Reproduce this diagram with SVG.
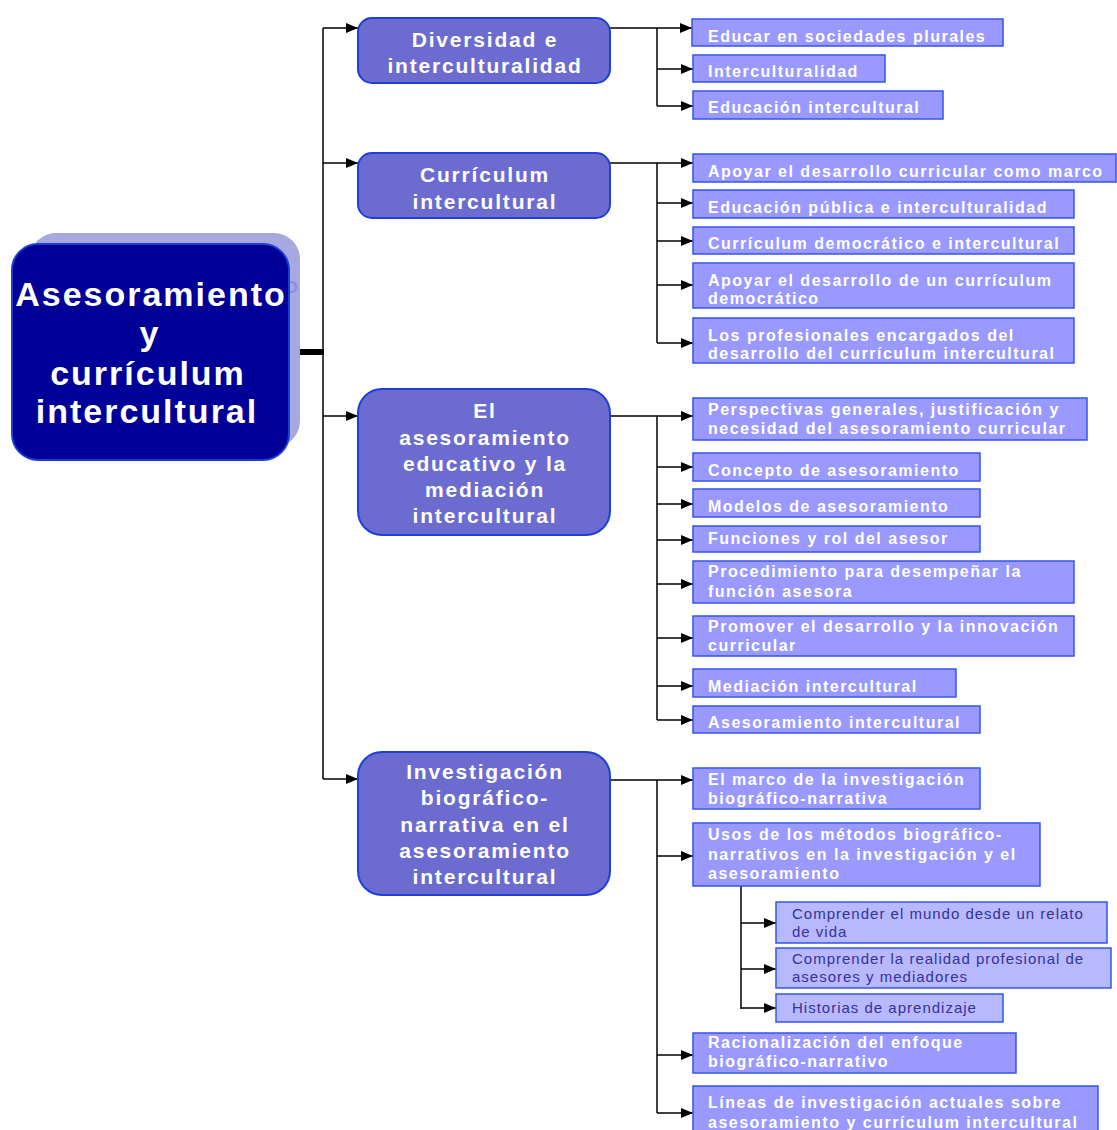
<svg xmlns="http://www.w3.org/2000/svg" width="1117" height="1130" viewBox="0 0 1117 1130">
<style>
.root-t{font-family:"Liberation Sans",Arial,sans-serif;font-weight:bold;font-size:34px;fill:#fff;letter-spacing:2px;text-anchor:middle}
.n1{fill:#6b6bd0;stroke:#1f3fd6;stroke-width:2}
.n1-t{font-family:"Liberation Sans",Arial,sans-serif;font-weight:bold;font-size:21px;fill:#fff;letter-spacing:1.8px;text-anchor:middle}
.leaf{fill:#9999ff;stroke:#3355ee;stroke-width:1.5}
.leaf-t{font-family:"Liberation Sans",Arial,sans-serif;font-weight:bold;font-size:16px;fill:#fff;letter-spacing:1.5px}
.sub{fill:#b8b8ff;stroke:#3355ee;stroke-width:1.5}
.sub-t{font-family:"Liberation Sans",Arial,sans-serif;font-size:15px;fill:#333399;letter-spacing:1px}
.c{stroke:#000;stroke-width:1.5;fill:none}
.ca{stroke:#000;stroke-width:1.5;fill:none;marker-end:url(#arr)}
</style>
<defs>
<marker id="arr" markerUnits="userSpaceOnUse" markerWidth="12" markerHeight="10" refX="12" refY="5" orient="auto">
<path d="M0,0 L12,5 L0,10 Z" fill="#000"/>
</marker>
</defs>
<rect width="1117" height="1130" fill="#fff"/>

<g id="connectors">
<line x1="300" y1="352" x2="324" y2="352" stroke="#000" stroke-width="6"/>
<line class="c" x1="323" y1="28" x2="323" y2="779" stroke-width="2"/>
<line class="ca" x1="323" y1="28" x2="358" y2="28"/>
<line class="ca" x1="323" y1="163" x2="358" y2="163"/>
<line class="ca" x1="323" y1="416" x2="358" y2="416"/>
<line class="ca" x1="323" y1="779" x2="358" y2="779"/>

<line class="c" x1="610" y1="28" x2="657" y2="28"/>
<line class="c" x1="657" y1="28" x2="657" y2="106"/>
<line class="ca" x1="657" y1="28" x2="692" y2="28"/>
<line class="ca" x1="657" y1="69" x2="693" y2="69"/>
<line class="ca" x1="657" y1="106" x2="693" y2="106"/>

<line class="c" x1="610" y1="163" x2="657" y2="163"/>
<line class="c" x1="657" y1="163" x2="657" y2="343"/>
<line class="ca" x1="657" y1="163" x2="693" y2="163"/>
<line class="ca" x1="657" y1="203" x2="693" y2="203"/>
<line class="ca" x1="657" y1="241" x2="693" y2="241"/>
<line class="ca" x1="657" y1="285" x2="693" y2="285"/>
<line class="ca" x1="657" y1="343" x2="693" y2="343"/>

<line class="c" x1="610" y1="416" x2="657" y2="416"/>
<line class="c" x1="657" y1="416" x2="657" y2="720"/>
<line class="ca" x1="657" y1="416" x2="693" y2="416"/>
<line class="ca" x1="657" y1="467" x2="693" y2="467"/>
<line class="ca" x1="657" y1="504" x2="693" y2="504"/>
<line class="ca" x1="657" y1="540" x2="693" y2="540"/>
<line class="ca" x1="657" y1="584" x2="693" y2="584"/>
<line class="ca" x1="657" y1="638" x2="693" y2="638"/>
<line class="ca" x1="657" y1="686" x2="693" y2="686"/>
<line class="ca" x1="657" y1="720" x2="693" y2="720"/>

<line class="c" x1="610" y1="780" x2="657" y2="780"/>
<line class="c" x1="657" y1="780" x2="657" y2="1113"/>
<line class="ca" x1="657" y1="780" x2="693" y2="780"/>
<line class="ca" x1="657" y1="856" x2="693" y2="856"/>
<line class="ca" x1="657" y1="1055" x2="693" y2="1055"/>
<line class="ca" x1="657" y1="1113" x2="693" y2="1113"/>

<line class="c" x1="741" y1="886" x2="741" y2="1009"/>
<line class="ca" x1="741" y1="923" x2="776" y2="923"/>
<line class="ca" x1="741" y1="969" x2="776" y2="969"/>
<line class="ca" x1="741" y1="1008" x2="776" y2="1008"/>
</g>

<g id="root">
<rect x="30" y="233" width="270" height="214" rx="26" fill="#a8a8e0"/>
<circle cx="291" cy="287" r="5" fill="none" stroke="#8c8ce0" stroke-width="2.5"/>
<rect x="12" y="244" width="277" height="216" rx="26" fill="#000099" stroke="#1a3fd0" stroke-width="2"/>
<text class="root-t" x="151" y="306">Asesoramiento</text>
<text class="root-t" x="150" y="345">y</text>
<text class="root-t" x="148" y="385">currículum</text>
<text class="root-t" x="147" y="423">intercultural</text>
</g>

<g id="n-diversidad">
<rect class="n1" x="358" y="18" width="252" height="65" rx="14"/>
<text class="n1-t" x="485" y="47">Diversidad e</text>
<text class="n1-t" x="485" y="73">interculturalidad</text>
</g>
<g id="n-curriculum">
<rect class="n1" x="358" y="153" width="252" height="65" rx="14"/>
<text class="n1-t" x="485" y="182">Currículum</text>
<text class="n1-t" x="485" y="209">intercultural</text>
</g>
<g id="n-asesoramiento">
<rect class="n1" x="358" y="389" width="252" height="146" rx="24"/>
<text class="n1-t" x="485" y="418">El</text>
<text class="n1-t" x="485" y="445">asesoramiento</text>
<text class="n1-t" x="485" y="471">educativo y la</text>
<text class="n1-t" x="485" y="497">mediación</text>
<text class="n1-t" x="485" y="523">intercultural</text>
</g>
<g id="n-investigacion">
<rect class="n1" x="358" y="752" width="252" height="143" rx="24"/>
<text class="n1-t" x="485" y="779">Investigación</text>
<text class="n1-t" x="485" y="805">biográfico-</text>
<text class="n1-t" x="485" y="832">narrativa en el</text>
<text class="n1-t" x="485" y="858">asesoramiento</text>
<text class="n1-t" x="485" y="884">intercultural</text>
</g>

<g id="l-educar"><rect class="leaf" x="692" y="19" width="311" height="27"/><text class="leaf-t" x="708" y="42">Educar en sociedades plurales</text></g>
<g id="l-intercult"><rect class="leaf" x="693" y="55" width="192" height="27"/><text class="leaf-t" x="708" y="77">Interculturalidad</text></g>
<g id="l-educacion"><rect class="leaf" x="693" y="91" width="250" height="28"/><text class="leaf-t" x="708" y="113">Educación intercultural</text></g>

<g id="l-apoyar-marco"><rect class="leaf" x="693" y="154" width="423" height="28"/><text class="leaf-t" x="708" y="177">Apoyar el desarrollo curricular como marco</text></g>
<g id="l-publica"><rect class="leaf" x="693" y="190" width="381" height="28"/><text class="leaf-t" x="708" y="213">Educación pública e interculturalidad</text></g>
<g id="l-democratico"><rect class="leaf" x="693" y="227" width="381" height="27"/><text class="leaf-t" x="708" y="249">Currículum democrático e intercultural</text></g>
<g id="l-apoyar-dem"><rect class="leaf" x="693" y="263" width="381" height="45"/><text class="leaf-t" x="708" y="286">Apoyar el desarrollo de un currículum</text><text class="leaf-t" x="708" y="304">democrático</text></g>
<g id="l-profesionales"><rect class="leaf" x="693" y="318" width="381" height="45"/><text class="leaf-t" x="708" y="341">Los profesionales encargados del</text><text class="leaf-t" x="708" y="359">desarrollo del currículum intercultural</text></g>

<g id="l-perspectivas"><rect class="leaf" x="693" y="398" width="394" height="42"/><text class="leaf-t" x="708" y="415">Perspectivas generales, justificación y</text><text class="leaf-t" x="708" y="434">necesidad del asesoramiento curricular</text></g>
<g id="l-concepto"><rect class="leaf" x="693" y="453" width="287" height="28"/><text class="leaf-t" x="708" y="476">Concepto de asesoramiento</text></g>
<g id="l-modelos"><rect class="leaf" x="693" y="489" width="287" height="28"/><text class="leaf-t" x="708" y="512">Modelos de asesoramiento</text></g>
<g id="l-funciones"><rect class="leaf" x="693" y="526" width="287" height="26"/><text class="leaf-t" x="708" y="544">Funciones y rol del asesor</text></g>
<g id="l-procedimiento"><rect class="leaf" x="693" y="561" width="381" height="42"/><text class="leaf-t" x="708" y="577">Procedimiento para desempeñar la</text><text class="leaf-t" x="708" y="597">función asesora</text></g>
<g id="l-promover"><rect class="leaf" x="693" y="616" width="381" height="40"/><text class="leaf-t" x="708" y="632">Promover el desarrollo y la innovación</text><text class="leaf-t" x="708" y="651">curricular</text></g>
<g id="l-mediacion"><rect class="leaf" x="693" y="669" width="263" height="28"/><text class="leaf-t" x="708" y="692">Mediación intercultural</text></g>
<g id="l-asesor-int"><rect class="leaf" x="693" y="706" width="287" height="27"/><text class="leaf-t" x="708" y="728">Asesoramiento intercultural</text></g>

<g id="l-marco"><rect class="leaf" x="693" y="768" width="287" height="41"/><text class="leaf-t" x="708" y="785">El marco de la investigación</text><text class="leaf-t" x="708" y="804">biográfico-narrativa</text></g>
<g id="l-usos"><rect class="leaf" x="693" y="823" width="347" height="63"/><text class="leaf-t" x="708" y="840">Usos de los métodos biográfico-</text><text class="leaf-t" x="708" y="860">narrativos en la investigación y el</text><text class="leaf-t" x="708" y="879">asesoramiento</text></g>
<g id="s-mundo"><rect class="sub" x="776" y="902" width="331" height="41"/><text class="sub-t" x="792" y="919">Comprender el mundo desde un relato</text><text class="sub-t" x="792" y="937">de vida</text></g>
<g id="s-realidad"><rect class="sub" x="776" y="948" width="335" height="40"/><text class="sub-t" x="792" y="964">Comprender la realidad profesional de</text><text class="sub-t" x="792" y="982">asesores y mediadores</text></g>
<g id="s-historias"><rect class="sub" x="776" y="994" width="227" height="28"/><text class="sub-t" x="792" y="1013">Historias de aprendizaje</text></g>
<g id="l-racionalizacion"><rect class="leaf" x="693" y="1033" width="323" height="40"/><text class="leaf-t" x="708" y="1048">Racionalización del enfoque</text><text class="leaf-t" x="708" y="1067">biográfico-narrativo</text></g>
<g id="l-lineas"><rect class="leaf" x="693" y="1086" width="405" height="50"/><text class="leaf-t" x="708" y="1108">Líneas de investigación actuales sobre</text><text class="leaf-t" x="708" y="1128">asesoramiento y currículum intercultural</text></g>
</svg>
